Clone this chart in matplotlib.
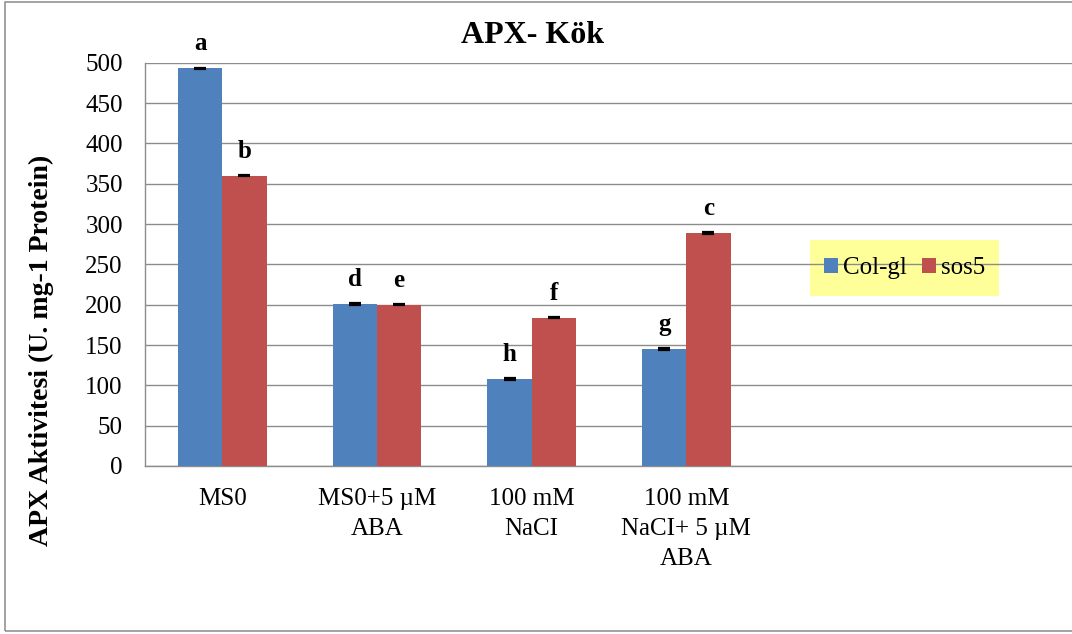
import matplotlib
matplotlib.use("Agg")
import matplotlib.pyplot as plt
from matplotlib.patches import Rectangle, Patch
import numpy as np

plt.rcParams["font.family"] = ["Liberation Serif", "DejaVu Serif"]

# Treatments, enzyme activity per line, and significance letters
categories = ["MS0", "MS0+5 µM\nABA", "100 mM\nNaCI", "100 mM\nNaCI+ 5 µM\nABA"]
series_names = ["Col-gl", "sos5"]
col_gl = [493, 201, 108, 145]
sos5 = [360, 200, 184, 289]
col_gl_err = [1, 1, 1, 1]
sos5_err = [1, 1, 1, 1]
col_gl_letters = ["a", "d", "h", "g"]
sos5_letters = ["b", "e", "f", "c"]
y_ticks = [0, 50, 100, 150, 200, 250, 300, 350, 400, 450, 500]

BLUE = "#4F81BD"
RED = "#C0504D"
GRID = "#8C8C8C"

W, H = 1072, 634
fig = plt.figure(figsize=(W / 100, H / 100), dpi=100)

# outer chart border
fig.patches.append(Rectangle((5 / W, 1 - 631 / H), (1085 - 5) / W, (631 - 2) / H,
                             transform=fig.transFigure, fill=False,
                             edgecolor="#8A8A8A", linewidth=1.1))

ax = fig.add_axes([145 / W, 1 - 466 / H, 928 / W, (466 - 62.7) / H])

n_slots = 6
x = np.arange(len(categories))
bw = 2 / 7

ax.bar(x - bw / 2, col_gl, bw, color=BLUE, zorder=3, label=series_names[0])
ax.bar(x + bw / 2, sos5, bw, color=RED, zorder=3, label=series_names[1])
ax.errorbar(x - bw / 2, col_gl, yerr=col_gl_err, fmt="none", ecolor="black",
            elinewidth=1.2, capsize=4.3, capthick=1.6, zorder=4)
ax.errorbar(x + bw / 2, sos5, yerr=sos5_err, fmt="none", ecolor="black",
            elinewidth=1.2, capsize=4.3, capthick=1.6, zorder=4)

for xi, v, t in zip(x - bw / 2, col_gl, col_gl_letters):
    ax.annotate(t, (xi, v), xytext=(0, 13), textcoords="offset points",
                ha="center", va="baseline", fontsize=18, fontweight="bold")
for xi, v, t in zip(x + bw / 2, sos5, sos5_letters):
    ax.annotate(t, (xi, v), xytext=(0, 13), textcoords="offset points",
                ha="center", va="baseline", fontsize=18, fontweight="bold")

ax.set_xlim(-0.5, n_slots - 0.5)
ax.set_ylim(0, 500)
ax.set_yticks(y_ticks)
ax.set_yticklabels([str(t) for t in y_ticks], fontsize=18)
ax.set_xticks(x)
ax.set_xticklabels(categories, fontsize=18, linespacing=1.45)
ax.tick_params(axis="y", length=0, pad=16)
ax.tick_params(axis="x", length=0, pad=16)

ax.grid(axis="y", color=GRID, linewidth=1.0, zorder=1)
ax.set_axisbelow(True)
for s in ["top", "right"]:
    ax.spines[s].set_visible(False)
for s in ["left", "bottom"]:
    ax.spines[s].set_color(GRID)
    ax.spines[s].set_linewidth(1.0)

# legend: yellow panel sits beneath the gridlines, keys and text on top
ax.add_patch(Rectangle((810 / W, 1 - 296 / H), (999 - 810) / W, (296 - 240) / H,
                       transform=fig.transFigure, facecolor="#FFFF99",
                       edgecolor="none", zorder=0.2, clip_on=False))
handles = [Patch(facecolor=BLUE), Patch(facecolor=RED)]
ax.legend(handles, series_names, loc="center", ncol=2, frameon=False,
          bbox_to_anchor=(905 / W, 1 - 268 / H), bbox_transform=fig.transFigure,
          fontsize=18, handlelength=0.56, handleheight=0.56, handletextpad=0.2,
          columnspacing=0.6, borderpad=0.2)

fig.text(533 / W, 1 - 43 / H, "APX- Kök", ha="center", va="baseline",
         fontsize=23, fontweight="bold")
fig.text(41 / W, 1 - 350 / H, "APX Aktivitesi (U. mg-1 Protein)", rotation=90,
         ha="center", va="center", fontsize=20, fontweight="bold")

fig.savefig("out.png", dpi=100)
